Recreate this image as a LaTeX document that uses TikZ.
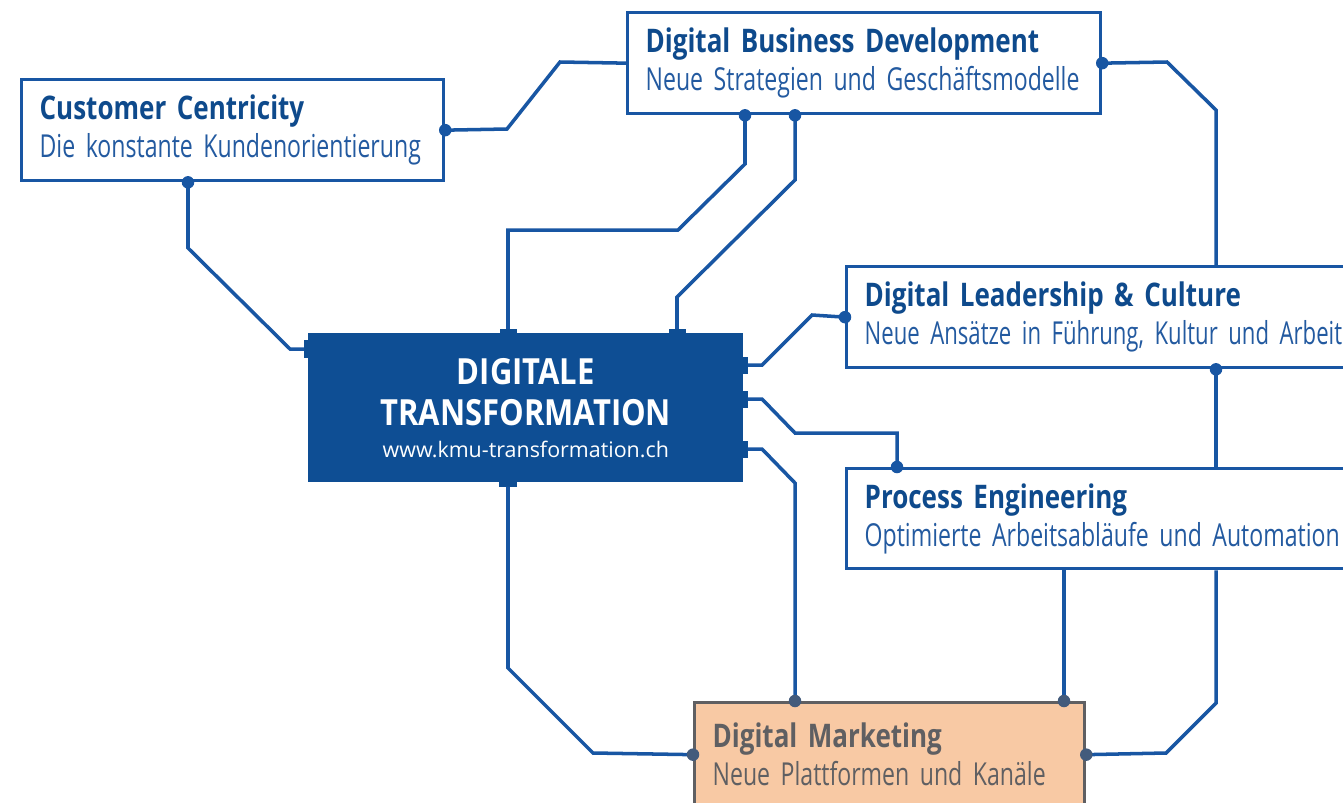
\documentclass[tikz,border=0pt]{standalone}
\usepackage{fontspec}
\setmainfont{Open Sans}
\newfontfamily\headfont{Open Sans}[FakeStretch=0.8, WordSpace=0.6]
\newfontfamily\subfont{Open Sans}[FakeStretch=0.73, WordSpace=0.6]
\newfontfamily\tightfont{Open Sans}[FakeStretch=0.7, WordSpace=0.5]
\newfontfamily\corefont{Open Sans}[FakeStretch=0.86]
\usetikzlibrary{positioning,calc}
\definecolor{linkblue}{RGB}{24,86,163}
\definecolor{coreblue}{RGB}{14,78,148}
\definecolor{titleblue}{RGB}{14,74,140}
\definecolor{subblue}{RGB}{35,90,160}
\definecolor{mktfill}{RGB}{248,201,164}
\definecolor{mktgray}{RGB}{95,95,98}
\newcommand{\cardhead}[1]{\mbox{\headfont\bfseries\fontsize{18.5}{21.5}\selectfont #1}}
\newcommand{\cardsub}[1]{\mbox{#1}}

\begin{document}
\begin{tikzpicture}[x=0.02cm, y=-0.02cm,
    card/.style={rectangle, draw=linkblue, line width=1.9pt, fill=white, anchor=north west,
        align=left, inner xsep=0.36cm, inner ysep=0pt, minimum height=2.02cm, text width=#1,
        text=subblue, font=\subfont\fontsize{18}{21.5}\selectfont},
    market/.style={card=#1, draw=mktgray, fill=mktfill, text=mktgray, minimum height=2.08cm},
    core/.style={rectangle, fill=coreblue, anchor=north west, minimum width=8.7cm,
        minimum height=2.98cm, text=white, align=center,
        font=\corefont\bfseries\fontsize{20.5}{23.2}\selectfont},
    link/.style={draw=linkblue, line width=2pt},
    stub/.style={fill=coreblue}
]
\useasboundingbox (0,0) rectangle (1343,802);
\clip (0,0) rectangle (1343,802);

% Boxes
\node[card=7.72cm] (cc) at (20,78) {\cardhead{\color{titleblue}Customer Centricity}\\\cardsub{Die konstante Kundenorientierung}};
\node[card=8.74cm] (dbd) at (626,11) {\cardhead{\color{titleblue}Digital Business Development}\\\cardsub{Neue Strategien und Geschäftsmodelle}};
\node[card=10.48cm] (dlc) at (845,265) {\cardhead{\color{titleblue}Digital Leadership \& Culture}\\\cardsub{\tightfont Neue Ansätze in Führung, Kultur und Arbeit}};
\node[card=10.48cm, minimum height=2cm] (pe) at (845,467) {\cardhead{\color{titleblue}Process Engineering}\\\cardsub{Optimierte Arbeitsabläufe und Automation}};
\node[market=7.08cm] (dm) at (693,701) {\cardhead{Digital Marketing}\\\cardsub{Neue Plattformen und Kanäle}};

% Central node
\node[core] (dt) at (308,333) {DIGITALE\\TRANSFORMATION\\[-5pt]{\normalfont\fontsize{12.2}{14}\selectfont www.kmu-transformation.ch}};

% Ports
\coordinate (cc-s) at ($(cc.south west)+(168,0)$);
\coordinate (dbd-s1) at ($(dbd.south west)+(119,0)$);
\coordinate (dbd-s2) at ($(dbd.south west)+(169,0)$);
\coordinate (dlc-n) at ($(dlc.north west)+(371,0)$);
\coordinate (dlc-s) at ($(dlc.south west)+(371,0)$);
\coordinate (pe-n1) at ($(pe.north west)+(52,0)$);
\coordinate (pe-n2) at ($(pe.north west)+(371,0)$);
\coordinate (pe-s1) at ($(pe.south west)+(219,0)$);
\coordinate (pe-s2) at ($(pe.south west)+(371,0)$);
\coordinate (dm-n1) at ($(dm.north west)+(102,0)$);
\coordinate (dm-n2) at ($(dm.north west)+(371,0)$);
\coordinate (dt-w) at ($(dt.north west)+(-4,16)$);
\coordinate (dt-n1) at ($(dt.north west)+(200,-4)$);
\coordinate (dt-n2) at ($(dt.north west)+(369,-4)$);
\coordinate (dt-e1) at ($(dt.north east)+(4,32)$);
\coordinate (dt-e2) at ($(dt.north east)+(4,66)$);
\coordinate (dt-e3) at ($(dt.north east)+(4,116)$);
\coordinate (dt-s) at ($(dt.south west)+(200,4)$);

% Stubs on the central node
\foreach \p in {dt-n1,dt-n2}
    \fill[stub] ($(\p)+(-8.5,0)$) rectangle ($(\p)+(8.5,6)$);
\foreach \p in {dt-e1,dt-e2,dt-e3}
    \fill[stub] ($(\p)+(0,-8.5)$) rectangle ($(\p)+(-6,8.5)$);
\fill[stub] ($(dt-w)+(0,-9)$) rectangle ($(dt-w)+(6,9)$);
\fill[stub] ($(dt-s)+(-9,0)$) rectangle ($(dt-s)+(9,-6)$);

% Connectors
\draw[link] (cc.east) -- (507,129) -- (560,62) -- (dbd.west);
\draw[link] (cc-s) -- (188,248) -- (290,349) -- (dt-w);
\draw[link] (dbd-s1) -- (745,164) -- (678,230) -- (508,230) -- (dt-n1);
\draw[link] (dbd-s2) -- (795,180) -- (677,297) -- (dt-n2);
\draw[link] (dbd.east) -- (1167,62) -- (1216,110) -- (dlc-n);
\draw[link] (dt-e1) -- (762,365) -- (812,315) -- (dlc.west);
\draw[link] (dlc-s) -- (pe-n2);
\draw[link] (dt-e2) -- (762,399) -- (795,433) -- (897,433) -- (pe-n1);
\draw[link] (dt-e3) -- (762,449) -- (795,483) -- (dm-n1);
\draw[link] (dt-s) -- (508,668) -- (593,753) -- (dm.west);
\draw[link] (pe-s1) -- (dm-n2);
\draw[link] (pe-s2) -- (1216,703) -- (1166,753) -- (dm.east);

% Dots
\foreach \p in {cc.east,cc-s,dbd-s1,dbd-s2,dbd.east,dlc.west,dlc-s,pe-n1}
    \fill[linkblue] (\p) circle[radius=0.125cm];
\foreach \p in {dm-n1,dm-n2,dm.west,dm.east}
    \fill[mktgray!60!linkblue] (\p) circle[radius=0.125cm];
\end{tikzpicture}
\end{document}
